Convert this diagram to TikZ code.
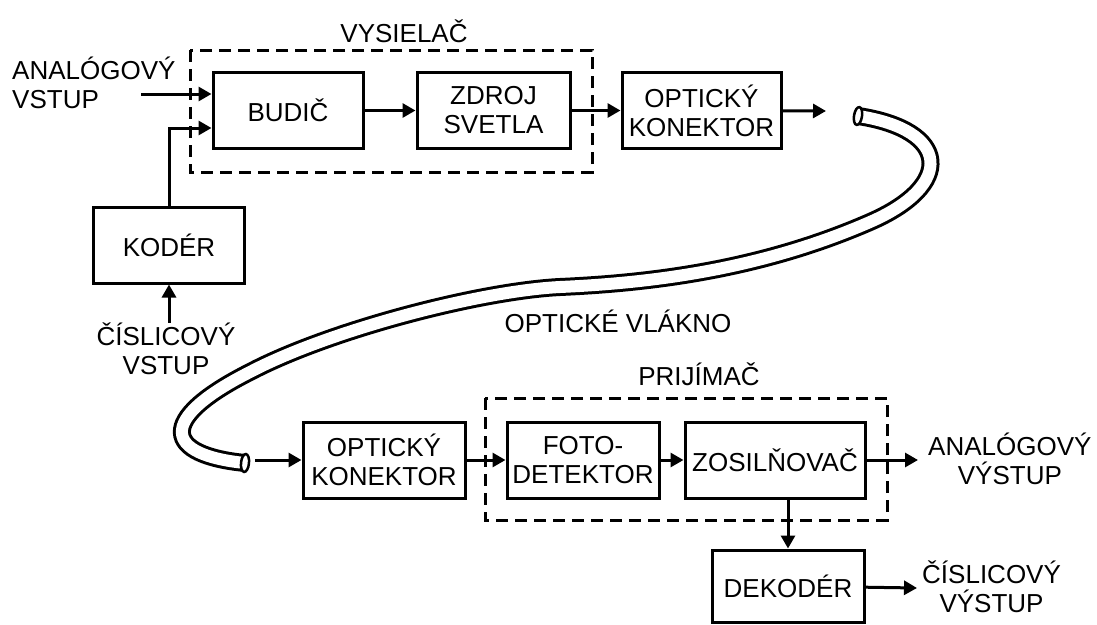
\documentclass[tikz,border=0pt]{standalone}
\usepackage{fontspec}
\setmainfont{Liberation Sans}
\usepackage{tikz}
\usetikzlibrary{arrows.meta}

\begin{document}
\begin{tikzpicture}[x=1pt,y=-1pt,>={Triangle[length=13pt,width=14pt]},
font=\fontsize{26}{29}\selectfont,
blok/.style={draw,line width=3pt,minimum height=76pt,inner sep=0pt,align=center},
ramka/.style={line width=3pt,dash pattern=on 12pt off 7pt},
sipka/.style={->,line width=3pt},
popis/.style={inner sep=0pt,align=center}]
\useasboundingbox(0,0)rectangle(1097,624);
% vysielac
\draw[ramka](190,50)rectangle(592,172);
\node[popis,anchor=base](vys)at(404,42){VYSIELAČ};
\node[blok,minimum width=150pt](budic)at(288,110.5){BUDIČ};
\node[blok,minimum width=153pt](zdroj)at(493.5,110.5){ZDROJ\\SVETLA};
\node[blok,minimum width=159pt](konA)at(701.5,110.5){OPTICKÝ\\KONEKTOR};
\node[blok,minimum width=151pt](koder)at(169,245){KODÉR};
\node[popis,align=left,anchor=west](anin)at(12,83){ANALÓGOVÝ\\VSTUP};
\node[popis](cisin)at(166,349){ČÍSLICOVÝ\\VSTUP};
\coordinate(vstA)at(141,94);
\coordinate(vlakA)at(826,111);
\draw[sipka](vstA)--(vstA-|budic.west);
\draw[sipka](koder.north)|-([yshift=-17.5pt]budic.west);
\draw[sipka](koder.south|-cisin.north)--(koder.south);
\draw[sipka](budic)--(zdroj);
\draw[sipka](zdroj)--(konA);
\draw[sipka](konA)--(vlakA);
% opticke vlakno
\draw[white,line width=12pt,preaction={draw,black,line width=18pt}](858,116)..controls(950,130)and(955,185)..(870,222)
..controls(760,270)and(650,283)..(560,287)..controls(480,291)and(330,330)..(250,372)
..controls(155,420)and(165,455)..(245,463);
\draw[line width=2.5pt,fill=white,rotate around={-9:(858,116)}](858,116)ellipse[x radius=4pt,y radius=9pt];
\draw[line width=2.5pt,fill=white,rotate around={-6:(245,463)}](245,463)ellipse[x radius=4pt,y radius=9pt];
\node[popis,anchor=base](vlakno)at(618,332){OPTICKÉ VLÁKNO};
% prijimac
\draw[ramka](485,398)rectangle(887,520);
\node[popis,anchor=base](prij)at(699,385){PRIJÍMAČ};
\node[blok,minimum width=162pt](konB)at(384,460){OPTICKÝ\\KONEKTOR};
\node[blok,minimum width=152pt](foto)at(583,460){FOTO-\\DETEKTOR};
\node[blok,minimum width=180pt](zosil)at(775,460){ZOSILŇOVAČ};
\node[blok,minimum width=152pt,minimum height=72pt](dekoder)at(788,586){DEKODÉR};
\node[popis,anchor=west](anout)at(928,459){ANALÓGOVÝ\\VÝSTUP};
\node[popis,anchor=west](cisout)at(922,587){ČÍSLICOVÝ\\VÝSTUP};
\coordinate(vlakB)at(255,460);
\coordinate(vyA)at(918,460);
\coordinate(vyB)at(917,588);
\draw[sipka](vlakB)--(konB);
\draw[sipka](konB)--(foto);
\draw[sipka](foto)--(zosil);
\draw[sipka](zosil)--(vyA);
\draw[sipka](dekoder.north|-zosil.south)--(dekoder.north);
\draw[sipka](dekoder)--(vyB);
\end{tikzpicture}
\end{document}
